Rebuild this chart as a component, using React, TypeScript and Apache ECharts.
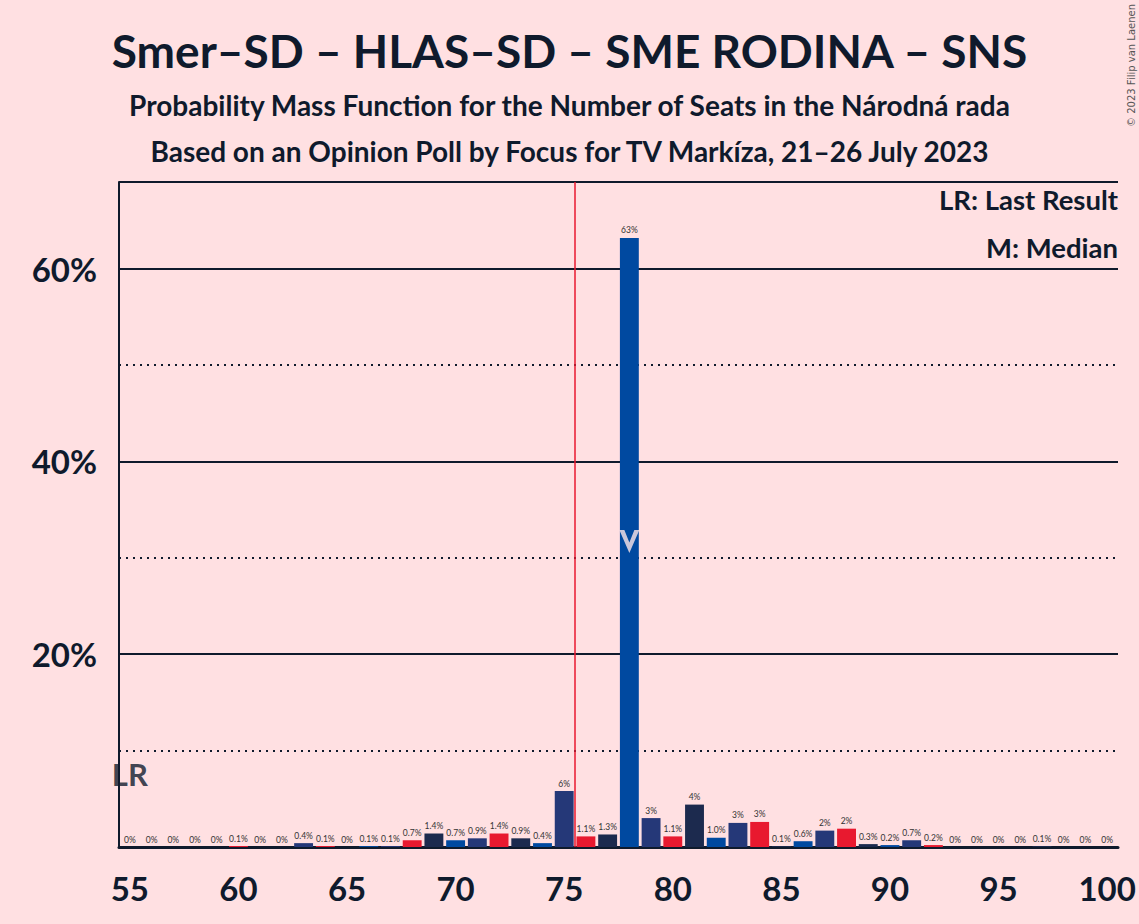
import { useEffect, useRef } from 'react';
import * as echarts from 'echarts';

// seats 55..100
const seats = Array.from({ length: 46 }, (_, i) => String(55 + i));
const probabilities = [
  0, 0, 0, 0, 0, 0.1, 0, 0, 0.4, 0.1,
  0, 0.1, 0.1, 0.7, 1.4, 0.7, 0.9, 1.4, 0.9, 0.4,
  5.8, 1.1, 1.3, 63.2, 3.0, 1.1, 4.4, 0.96, 2.5, 2.6,
  0.1, 0.6, 1.7, 1.9, 0.3, 0.2, 0.7, 0.2, 0, 0,
  0, 0, 0.1, 0, 0, 0,
];
// colour picked by seat % 4
const partyColors = ['#e8192f', '#1c2a4e', '#0049a0', '#253878'];
const majoritySeat = 75.5;
const medianSeat = '78';
const medianMarkerLevel = 31.7;
const lastResultSeat = '55';
const lastResultLabelLevel = 7.6;

const ink = '#0f1a2c';
const bg = '#ffe0e2';
const font = 'Lato, "Noto Sans", sans-serif';

function pct(v: number) {
  if (v === 0) return '0%';
  if (v < 1.45) return v.toFixed(1) + '%';
  return Math.round(v) + '%';
}

export default function App() {
  const chartRef = useRef<HTMLDivElement>(null);

  useEffect(() => {
    document.body.style.margin = '0';
    if (!chartRef.current) return;
    const chart = echarts.init(chartRef.current, null, { renderer: 'svg' });

    const option: echarts.EChartsOption = {
      animation: false,
      backgroundColor: bg,
      textStyle: { fontFamily: font },
      title: [
        {
          text: 'Smer–SD – HLAS–SD – SME RODINA – SNS',
          left: 'center',
          top: 22,
          textStyle: { color: ink, fontSize: 46, fontWeight: 'bold', fontFamily: font },
        },
        {
          text: 'Probability Mass Function for the Number of Seats in the Národná rada',
          left: 'center',
          top: 86,
          textStyle: { color: ink, fontSize: 28, fontWeight: 'bold', fontFamily: font },
        },
        {
          text: 'Based on an Opinion Poll by Focus for TV Markíza, 21–26 July 2023',
          left: 'center',
          top: 132,
          textStyle: { color: ink, fontSize: 28, fontWeight: 'bold', fontFamily: font },
        },
      ],
      graphic: [
        {
          type: 'text',
          right: 21,
          top: 185,
          style: { text: 'LR: Last Result', fill: ink, font: `bold 27.5px ${font}` },
        },
        {
          type: 'text',
          right: 21,
          top: 233,
          style: { text: 'M: Median', fill: ink, font: `bold 27.5px ${font}` },
        },
        {
          type: 'text',
          x: 1126,
          y: 4,
          rotation: Math.PI / 2,
          style: {
            text: '© 2023 Filip van Laenen',
            fill: '#555',
            font: '10px "DejaVu Sans", sans-serif',
            textAlign: 'right',
            textVerticalAlign: 'top',
          },
        },
      ],
      grid: { left: 119, right: 21, top: 182, bottom: 77, containLabel: false },
      xAxis: [
        {
          type: 'category',
          data: seats,
          axisLine: { lineStyle: { color: ink, width: 3 } },
          axisTick: { show: false },
          axisLabel: {
            interval: 4,
            color: ink,
            fontSize: 33,
            fontWeight: 'bold',
            fontFamily: font,
            margin: 24,
          },
        },
        { type: 'value', min: 54.5, max: 100.5, show: false },
      ],
      yAxis: [
        {
          type: 'value',
          min: 0,
          max: 69,
          interval: 20,
          axisLine: { show: true, lineStyle: { color: ink, width: 2 } },
          axisTick: { show: false },
          axisLabel: {
            color: ink,
            fontSize: 33,
            fontWeight: 'bold',
            fontFamily: font,
            margin: 22,
            showMaxLabel: false,
            formatter: (v: number) => (v === 0 || v % 20 !== 0 ? '' : v + '%'),
          },
          splitLine: { lineStyle: { color: ink, width: 2 } },
        },
        {
          type: 'value',
          min: 0,
          max: 69,
          interval: 10,
          position: 'left',
          axisLine: { show: false },
          axisTick: { show: false },
          axisLabel: { show: false },
          splitLine: { lineStyle: { color: ink, width: 2, type: [2, 5] } },
        },
      ],
      series: [
        {
          type: 'bar',
          data: probabilities.map((v, i) => ({
            value: v,
            itemStyle: { color: partyColors[(55 + i) % 4] },
          })),
          barCategoryGap: '13%',
          label: {
            show: true,
            position: 'top',
            distance: 3,
            color: '#333',
            fontSize: 8.5,
            fontFamily: font,
            formatter: (p: any) => pct(p.value as number),
          },
        },
        {
          type: 'line',
          xAxisIndex: 1,
          data: [],
          markLine: {
            silent: true,
            symbol: 'none',
            label: { show: false },
            lineStyle: { color: '#e8192f', width: 1.5, type: 'solid' },
            data: [{ xAxis: majoritySeat }],
          },
        },
        {
          type: 'scatter',
          z: 5,
          symbol: 'path://M0,0 L5,0 L10,12 L15,0 L20,0 L10,22 Z',
          symbolSize: [20, 23],
          itemStyle: { color: '#fde6e8' },
          data: [[medianSeat, medianMarkerLevel]],
        },
        {
          type: 'scatter',
          z: 5,
          symbolSize: 0,
          label: {
            show: true,
            position: 'inside',
            formatter: 'LR',
            color: ink,
            fontSize: 31,
            fontWeight: 'bold',
            fontFamily: font,
            textBorderWidth: 0,
          },
          data: [[lastResultSeat, lastResultLabelLevel]],
        },
      ],
    };

    chart.setOption(option);
    return () => chart.dispose();
  }, []);

  return <div ref={chartRef} style={{ width: 1139, height: 924 }} />;
}
